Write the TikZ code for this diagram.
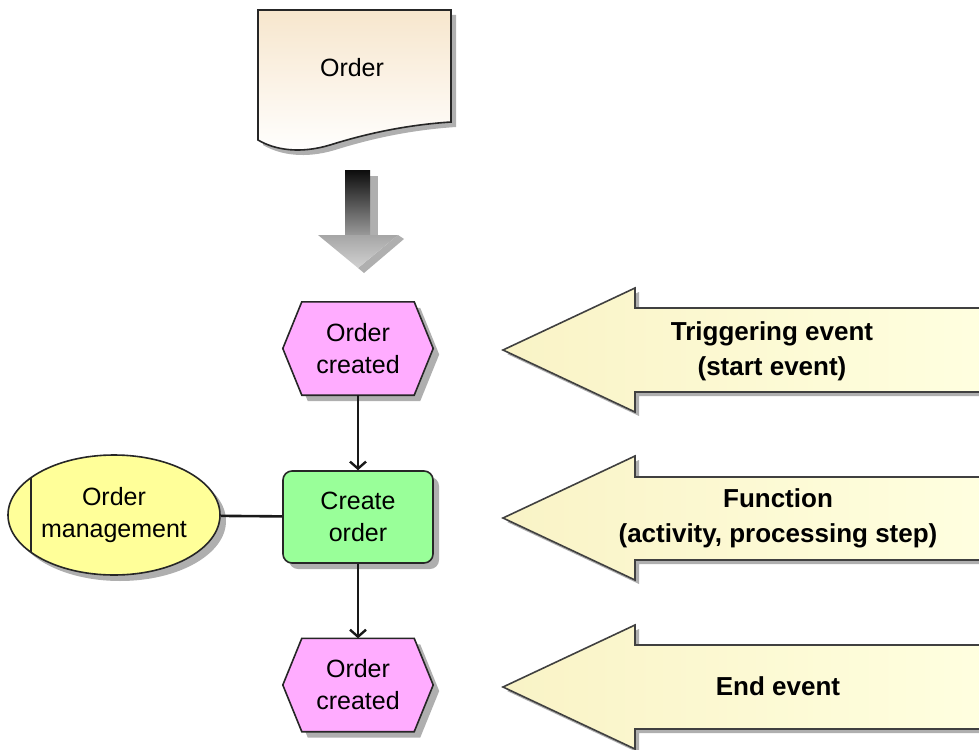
\documentclass[tikz,border=0pt]{standalone}
\usepackage{fontspec}
\setmainfont{Liberation Sans}
\usetikzlibrary{shapes.geometric,shadows,arrows.meta,calc,backgrounds}
\definecolor{evtpink}{RGB}{255,172,255}
\definecolor{fungreen}{RGB}{153,255,153}
\definecolor{orgyellow}{RGB}{255,255,153}
\definecolor{docbeige}{RGB}{247,230,205}
\definecolor{bigL}{RGB}{249,243,198}
\definecolor{bigR}{RGB}{255,255,224}
\definecolor{shadowgray}{RGB}{175,175,175}
\begin{document}
\begin{tikzpicture}[x=1pt,y=-1pt,
  shadowed/.style={drop shadow={shadow xshift=6pt,shadow yshift=-6pt,fill=shadowgray,opacity=1}},
  smallshadow/.style={drop shadow={shadow xshift=4pt,shadow yshift=-4pt,fill=shadowgray,opacity=1}},
  nodetext/.style={font=\fontsize{25}{32}\selectfont,align=center,text=black},
  evtbox/.style={nodetext,minimum width=150pt,minimum height=93pt,inner sep=0pt},
  evtshape/.style={fill=evtpink,draw=black!85,line width=1.6pt,shadowed},
  funbox/.style={nodetext,rectangle,rounded corners=9pt,minimum width=150pt,minimum height=92pt,inner sep=0pt,fill=fungreen,draw=black!85,line width=1.6pt,shadowed},
  orgbox/.style={nodetext,ellipse,minimum width=212pt,minimum height=120pt,inner sep=0pt,fill=orgyellow,draw=black!85,line width=1.6pt,shadowed},
  conn/.style={line width=2.6pt,draw=black!90},
  flow/.style={conn,-{Straight Barb[length=7pt,width=16pt,line width=2.4pt]}},
  bigarrow/.style={left color=bigL,right color=bigR,draw=black!75,line width=1.6pt,smallshadow},
  labeltext/.style={font=\bfseries\fontsize{26}{35}\selectfont,align=center,text=black}
]
\useasboundingbox (0,0) rectangle (979,749);
\clip (0,0) rectangle (979,749);

% document "Order"
\draw[top color=docbeige,bottom color=white,draw=black!85,line width=1.6pt,
      drop shadow={shadow xshift=5pt,shadow yshift=-5pt,fill=shadowgray,opacity=1}]
  (258,10) -- (451,10) -- (451,122)
  .. controls (405,125) and (365,134) .. (330,145)
  .. controls (300,154) and (275,150) .. (258,140) -- cycle;
\node[nodetext] (doc) at (352,68) {Order};

% gradient down arrow
\fill[shadowgray] (370,176) rectangle (378,235);
\fill[shadowgray] (398,235) -- (404,239) -- (364,273) -- (358,268) -- cycle;
\shade[top color=black!95,bottom color=black!40] (345,170) rectangle (370,235);
\shade[top color=black!35,bottom color=black!18] (318,235) -- (398,235) -- (358,268) -- cycle;

% EPC nodes
\node[evtbox] (e1) at (358,348.5) {Order\\created};
\node[funbox] (fn) at (358,517) {Create\\order};
\node[evtbox] (e2) at (358,685) {Order\\created};
\node[orgbox] (om) at (114,515) {Order\\management};
\draw[line width=1.6pt,black!85] ($(om.center)+(-83,-37.3)$) -- ($(om.center)+(-83,37.3)$);

\begin{scope}[on background layer]
  \foreach \n in {e1,e2}{
    \draw[evtshape] (\n.west) -- ($(\n.north west)+(19,0)$) -- ($(\n.north east)+(-19,0)$)
      -- (\n.east) -- ($(\n.south east)+(-19,0)$) -- ($(\n.south west)+(19,0)$) -- cycle;
  }
\end{scope}

% connectors
\draw[flow] (e1) -- (fn);
\draw[flow] (fn) -- (e2);
\draw[conn] (om) -- (fn);

% big explanatory arrows
\draw[bigarrow] (503,350) -- (635,288) -- (635,308) -- (990,308) -- (990,392) -- (635,392) -- (635,412) -- cycle;
\draw[bigarrow] (503,518) -- (635,456) -- (635,477) -- (990,477) -- (990,560) -- (635,560) -- (635,580) -- cycle;
\draw[bigarrow] (503,687) -- (635,625) -- (635,645) -- (990,645) -- (990,729) -- (635,729) -- (635,749) -- cycle;

\node[labeltext] (l1) at (772,351) {Triggering event\\(start event)};
\node[labeltext] (l2) at (778,518) {Function\\(activity, processing step)};
\node[labeltext] (l3) at (778,686) {End event};
\end{tikzpicture}
\end{document}
